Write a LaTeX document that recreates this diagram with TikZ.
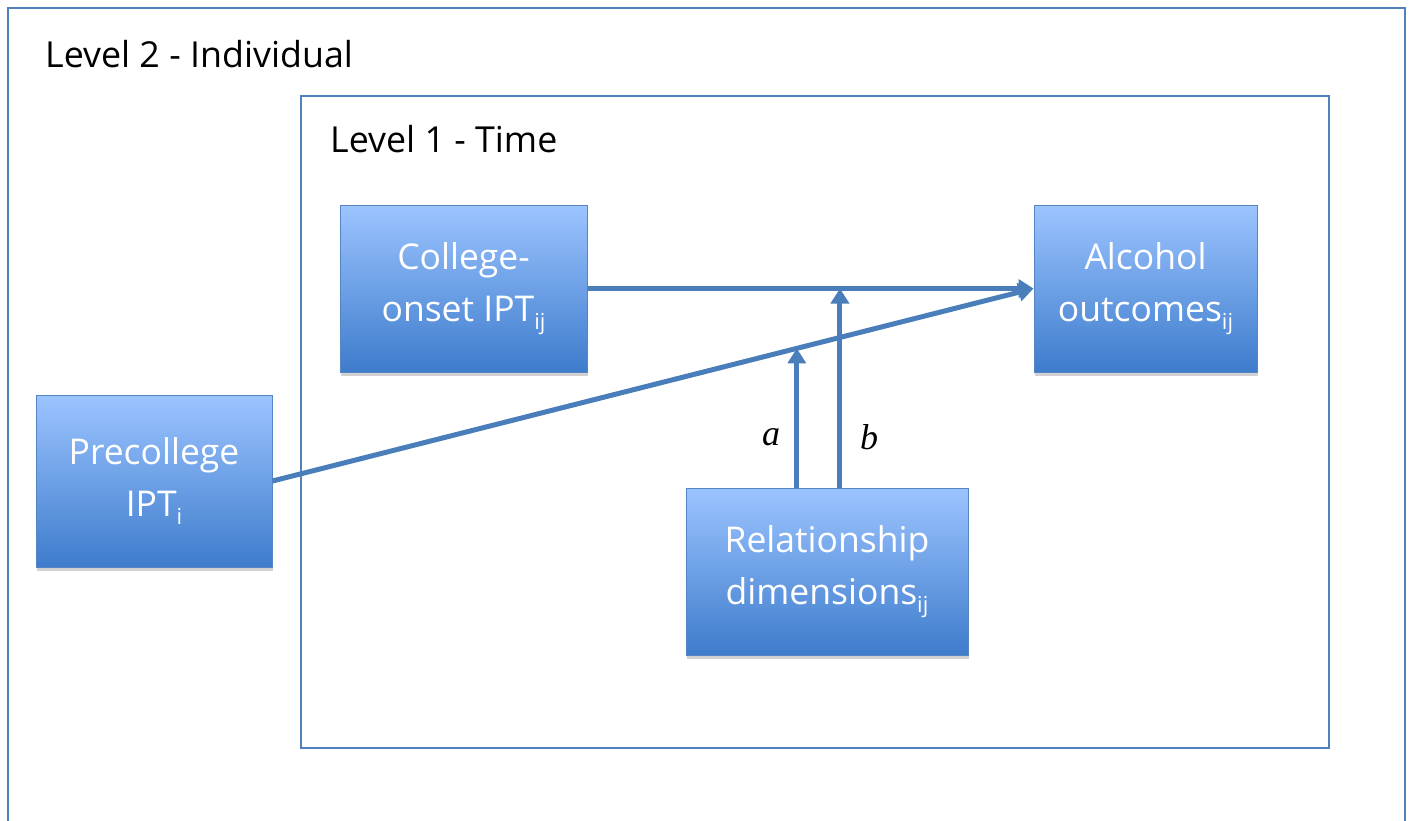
\documentclass[tikz,border=0pt]{standalone}
\usepackage{fontspec}
\setmainfont{Open Sans}
\newfontfamily\coeffont{Liberation Serif}
\usetikzlibrary{calc,shadows,arrows.meta}
\definecolor{frameblue}{RGB}{79,129,189}
\definecolor{linkblue}{RGB}{74,126,187}
\definecolor{boxtop}{RGB}{156,196,255}
\definecolor{boxbot}{RGB}{62,124,204}
\definecolor{boxedge}{RGB}{86,133,196}
\tikzset{
  frame/.style={draw=frameblue, line width=2pt},
  varbox/.style={draw=boxedge, line width=1pt, top color=boxtop, bottom color=boxbot,
    text=white, align=center, font=\fontsize{35.5}{52}\selectfont,
    drop shadow={shadow xshift=1pt, shadow yshift=-4pt, opacity=0.3, fill=black!60}},
  link/.style={draw=linkblue, line width=5pt},
  arr/.style={link, -{Triangle[length=15pt,width=18pt]}},
  lvl/.style={font=\fontsize{35.8}{42}\selectfont, anchor=base west, inner sep=0pt},
  coef/.style={font=\coeffont\itshape\fontsize{36}{40}\selectfont, inner sep=0pt}
}
\newcommand{\sbs}[1]{\raisebox{-0.45ex}{\fontsize{22}{22}\selectfont #1}}
\begin{document}
\begin{tikzpicture}[x=1pt,y=-1pt]
\useasboundingbox (0,0) rectangle (1410,820);
\draw[frame] (8,821) -- (8,8) -- (1405,8) -- (1405,821);
\draw[frame] (301,96) rectangle (1329,748);
\node[lvl] (l2) at (45,67) {Level 2 - Individual};
\node[lvl] (l1) at (330,152) {Level 1 - Time};
\node[varbox, minimum width=247pt, minimum height=167pt] (col) at (463.5,288.5) {College-\\onset IPT\sbs{ij}};
\node[varbox, minimum width=223pt, minimum height=167pt] (alc) at (1145.5,288.5) {Alcohol\\outcomes\sbs{ij}};
\node[varbox, minimum width=236pt, minimum height=172pt] (pre) at (154,481) {Precollege\\IPT\sbs{i}};
\node[varbox, minimum width=282pt, minimum height=167pt] (rel) at (827,571.5) {Relationship\\dimensions\sbs{ij}};
\draw[arr] (col.east) -- (alc.west);
\draw[arr] (pre.east) -- (alc.west);
\coordinate (pa) at ($(pre.east)!0.689!(alc.west)$);
\coordinate (pb) at ($(col.east)!0.566!(alc.west)$);
\draw[arr] (pa |- rel.north) -- (pa);
\draw[arr] (pb |- rel.north) -- (pb);
\node[coef] (la) at (771,437) {a};
\node[coef] (lb) at (869,437) {b};
\end{tikzpicture}
\end{document}
